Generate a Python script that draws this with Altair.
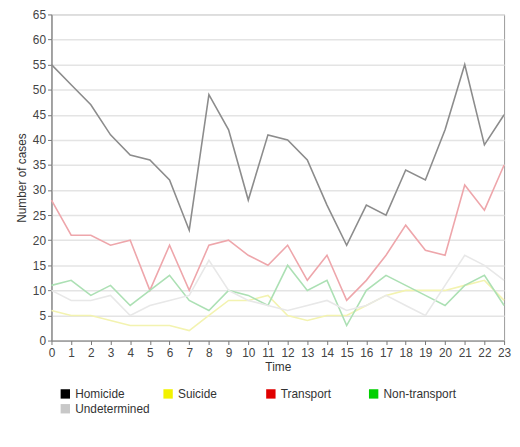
import altair as alt
import pandas as pd

hours = list(range(24))
series_names = ["Homicide", "Suicide", "Transport", "Non-transport", "Undetermined"]
homicide = [55, 51, 47, 41, 37, 36, 32, 22, 49, 42, 28, 41, 40, 36, 27, 19, 27, 25, 34, 32, 42, 55, 39, 45]
suicide = [6, 5, 5, 4, 3, 3, 3, 2, 5, 8, 8, 9, 5, 4, 5, 5, 7, 9, 10, 10, 10, 11, 12, 8]
transport = [28, 21, 21, 19, 20, 10, 19, 10, 19, 20, 17, 15, 19, 12, 17, 8, 12, 17, 23, 18, 17, 31, 26, 35]
non_transport = [11, 12, 9, 11, 7, 10, 13, 8, 6, 10, 9, 7, 15, 10, 12, 3, 10, 13, 11, 9, 7, 11, 13, 7]
undetermined = [10, 8, 8, 9, 5, 7, 8, 9, 16, 10, 8, 7, 6, 7, 8, 6, 7, 9, 7, 5, 11, 17, 15, 12]
legend_colors = ["#000000", "#f2f200", "#e00000", "#00d000", "#c8c8c8"]
line_colors = ["#8c8c8c", "#f3f3b0", "#eea6ab", "#ace0b4", "#e8e8e8"]

values = [homicide, suicide, transport, non_transport, undetermined]
rows = []
for name, vals in zip(series_names, values):
    for h, v in zip(hours, vals):
        rows.append({"Time": h, "Cases": v, "Series": name})
df = pd.DataFrame(rows)

x_axis = alt.Axis(title="Time", values=hours, grid=False, tickSize=4,
                  labelOverlap=False, labelFlush=False, labelFontSize=12,
                  titleFontSize=12, titleFontWeight="normal", labelColor="#444",
                  titleColor="#333", domainColor="#777", tickColor="#777",
                  titlePadding=3, labelPadding=3)
y_axis = alt.Axis(title="Number of cases", values=list(range(0, 66, 5)),
                  labelOverlap=False, labelFlush=False, grid=True, gridColor="#e4e4e4",
                  gridWidth=1.5, tickSize=4, labelFontSize=12, titleFontSize=12,
                  titleFontWeight="normal", labelColor="#444", titleColor="#333",
                  domainColor="#777", tickColor="#777", titlePadding=4)
x_scale = alt.Scale(domain=[0, 23], nice=False)
y_scale = alt.Scale(domain=[0, 65], nice=False)

base = alt.Chart(df)

lines = base.mark_line(strokeWidth=1.6).encode(
    x=alt.X("Time:Q", scale=x_scale, axis=x_axis),
    y=alt.Y("Cases:Q", scale=y_scale, axis=y_axis),
    color=alt.Color("Series:N", sort=series_names,
                    scale=alt.Scale(domain=series_names, range=line_colors),
                    legend=None),
)

legend_layer = base.mark_square(opacity=0, size=0).encode(
    x=alt.X("Time:Q", scale=x_scale, axis=x_axis),
    y=alt.Y("Cases:Q", scale=y_scale, axis=y_axis),
    fill=alt.Fill("Series:N", sort=series_names,
                  scale=alt.Scale(domain=series_names, range=legend_colors),
                  legend=alt.Legend(title=None, orient="none", legendX=8, legendY=378,
                                    columns=4, gridAlign="all", columnPadding=12,
                                    symbolType="square", symbolSize=90,
                                    symbolOpacity=1, symbolStrokeWidth=0,
                                    labelFontSize=12, labelColor="#333",
                                    rowPadding=3, direction="horizontal")),
)

chart = alt.layer(lines, legend_layer).resolve_scale(color="independent").properties(
    width=458, height=330,
    autosize=alt.AutoSizeParams(type="none"),
    padding={"left": 44, "top": 4, "right": 8, "bottom": 90},
).configure_view(stroke="#999").configure_axis(
    labelFont="Liberation Sans", titleFont="Liberation Sans"
).configure_legend(labelFont="Liberation Sans")

chart.save("out.html", embed_options={"renderer": "svg", "actions": False})
